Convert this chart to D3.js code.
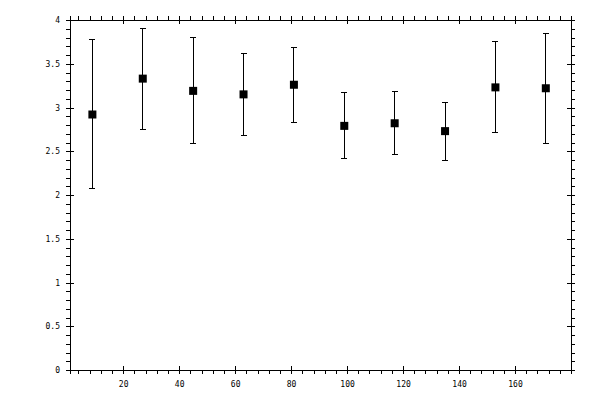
<!DOCTYPE html>
<html>
<head>
<meta charset="utf-8">
<script src="https://cdn.jsdelivr.net/npm/d3@7"></script>
<style>
  body { margin: 0; background: #fff; }
  .axis text { font-family: "DejaVu Sans Mono", monospace; font-size: 8px; fill: #000; }
  .axis path, .axis line { stroke: #000; stroke-width: 1; shape-rendering: crispEdges; }
</style>
</head>
<body>
<svg id="chart" width="600" height="400"></svg>
<script>
// data
var xs = [9, 27, 45, 63, 81, 99, 117, 135, 153, 171];
var means = [2.92, 3.33, 3.19, 3.15, 3.26, 2.79, 2.82, 2.73, 3.23, 3.22];
var highs = [3.775, 3.905, 3.80, 3.615, 3.69, 3.17, 3.185, 3.06, 3.755, 3.845];
var lows = [2.075, 2.75, 2.59, 2.68, 2.83, 2.42, 2.465, 2.395, 2.715, 2.59];
var xTicks = [20, 40, 60, 80, 100, 120, 140, 160];
var yTicks = [0, 0.5, 1, 1.5, 2, 2.5, 3, 3.5, 4];

// plot frame (window.top is reserved, so use other names)
var padL = 70, padR = 571, padT = 20, padB = 370;
var svg = d3.select('#chart');

var x = d3.scaleLinear().domain([1, 180]).range([padL, padR]);
var y = d3.scaleLinear().domain([0, 4]).range([padB, padT]);

var xMinor = d3.range(4, 181, 4).filter(function(v) { return v % 20 != 0; });
var yMinor = d3.range(1, 40).filter(function(i) { return i % 5 != 0; }).map(function(i) { return i / 10; });

// minor ticks (outside only)
svg.append('g').attr('class', 'axis').attr('transform', 'translate(0,' + padB + ')')
  .call(d3.axisBottom(x).tickValues(xMinor).tickSize(4).tickFormat(''));
svg.append('g').attr('class', 'axis').attr('transform', 'translate(0,' + padT + ')')
  .call(d3.axisTop(x).tickValues(xMinor).tickSize(4).tickFormat(''));
svg.append('g').attr('class', 'axis').attr('transform', 'translate(' + padL + ',0)')
  .call(d3.axisLeft(y).tickValues(yMinor).tickSize(4).tickFormat(''));
svg.append('g').attr('class', 'axis').attr('transform', 'translate(' + padR + ',0)')
  .call(d3.axisRight(y).tickValues(yMinor).tickSize(4).tickFormat(''));

// major ticks cross the axis line
var xb = svg.append('g').attr('class', 'axis').attr('transform', 'translate(0,' + padB + ')')
  .call(d3.axisBottom(x).tickValues(xTicks).tickSize(4).tickPadding(7).tickSizeOuter(0));
xb.selectAll('.tick line').attr('y1', -4);
var xt = svg.append('g').attr('class', 'axis').attr('transform', 'translate(0,' + padT + ')')
  .call(d3.axisTop(x).tickValues(xTicks).tickSize(4).tickFormat('').tickSizeOuter(0));
xt.selectAll('.tick line').attr('y1', 4);
var yl = svg.append('g').attr('class', 'axis').attr('transform', 'translate(' + padL + ',0)')
  .call(d3.axisLeft(y).tickValues(yTicks).tickSize(4).tickPadding(6).tickSizeOuter(0).tickFormat(d3.format('~g')));
yl.selectAll('.tick line').attr('x1', 4);
var yr = svg.append('g').attr('class', 'axis').attr('transform', 'translate(' + padR + ',0)')
  .call(d3.axisRight(y).tickValues(yTicks).tickSize(4).tickFormat('').tickSizeOuter(0));
yr.selectAll('.tick line').attr('x1', -4);

// error bars
var pts = xs.map(function(v, i) { return { x: v, m: means[i], hi: highs[i], lo: lows[i] }; });
var g = svg.append('g').attr('stroke', '#000').attr('stroke-width', 1).attr('shape-rendering', 'crispEdges');
g.selectAll('.bar').data(pts).enter().append('line')
  .attr('x1', function(d) { return x(d.x); }).attr('x2', function(d) { return x(d.x); })
  .attr('y1', function(d) { return y(d.hi); }).attr('y2', function(d) { return y(d.lo); });
g.selectAll('.capTop').data(pts).enter().append('line')
  .attr('x1', function(d) { return x(d.x) - 3; }).attr('x2', function(d) { return x(d.x) + 3; })
  .attr('y1', function(d) { return y(d.hi); }).attr('y2', function(d) { return y(d.hi); });
g.selectAll('.capBot').data(pts).enter().append('line')
  .attr('x1', function(d) { return x(d.x) - 3; }).attr('x2', function(d) { return x(d.x) + 3; })
  .attr('y1', function(d) { return y(d.lo); }).attr('y2', function(d) { return y(d.lo); });

// markers
svg.selectAll('.pt').data(pts).enter().append('rect')
  .attr('x', function(d) { return x(d.x) - 4; })
  .attr('y', function(d) { return y(d.m) - 4; })
  .attr('width', 8).attr('height', 8)
  .attr('fill', '#000');
</script>
</body>
</html>
